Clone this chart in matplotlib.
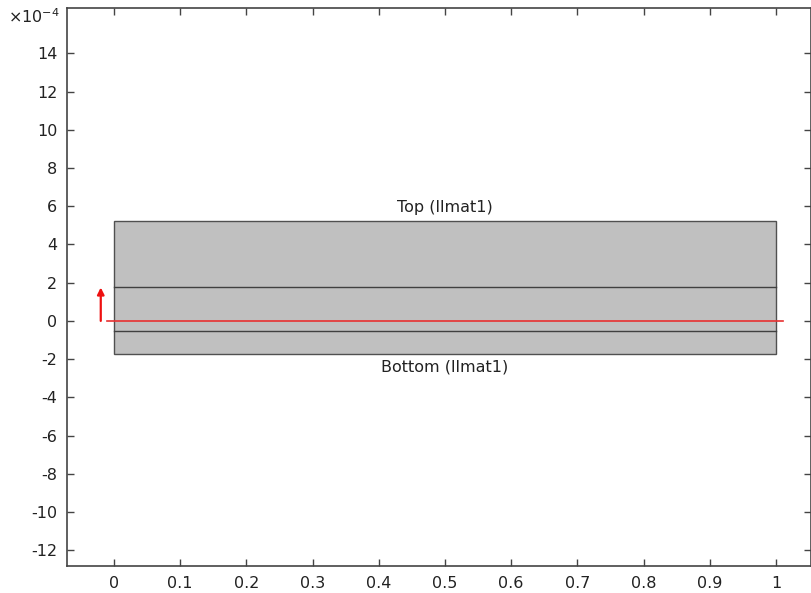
import matplotlib
matplotlib.use("Agg")
import matplotlib.pyplot as plt
from matplotlib.patches import Rectangle

# geometry (units of 1e-4 in y)
rect_x = [0.0, 1.0]
rect_y = [-1.73, 5.21]
layer_lines = [1.80, -0.53]
line_y = 0.0
line_x = [-0.011, 1.011]
arrow_x = -0.02
arrow_y = [0.0, 1.75]
labels = ["Top (llmat1)", "Bottom (llmat1)"]
label_pos = [(0.5, 5.95), (0.5, -2.4)]
xticks = [0, 0.1, 0.2, 0.3, 0.4, 0.5, 0.6, 0.7, 0.8, 0.9, 1]
xticklabels = ["0", "0.1", "0.2", "0.3", "0.4", "0.5", "0.6", "0.7", "0.8", "0.9", "1"]
yticks = [-12, -10, -8, -6, -4, -2, 0, 2, 4, 6, 8, 10, 12, 14]
xlim = (-0.071, 1.053)
ylim = (-12.83, 16.38)

fig = plt.figure(figsize=(8.12, 5.93), dpi=100)
ax = fig.add_axes([67/812, (593-566)/593, (811-67)/812, (566-8)/593])

ax.add_patch(Rectangle((rect_x[0], rect_y[0]), rect_x[1]-rect_x[0], rect_y[1]-rect_y[0],
                       facecolor="#c0c0c0", edgecolor="#505050", linewidth=1.0, zorder=1))
for ly in layer_lines:
    ax.plot(rect_x, [ly, ly], color="#404040", linewidth=1.0, zorder=2)
ax.plot(line_x, [line_y, line_y], color="#e83030", linewidth=1.2, zorder=3)
ax.annotate("", xy=(arrow_x, arrow_y[1]), xytext=(arrow_x, arrow_y[0]),
            arrowprops=dict(arrowstyle="-|>", color="#ee1010", lw=1.6,
                            mutation_scale=10, shrinkA=0, shrinkB=0), zorder=4)
for t, (px, py) in zip(labels, label_pos):
    ax.text(px, py, t, ha="center", va="center", fontsize=11.5, color="#222222")

ax.set_xlim(*xlim)
ax.set_ylim(*ylim)
ax.set_xticks(xticks)
ax.set_xticklabels(xticklabels)
ax.set_yticks(yticks)
ax.set_yticklabels([str(v) for v in yticks])
ax.tick_params(direction="in", length=5, width=1, colors="#444444",
               labelcolor="#222222", labelsize=11.5, top=True, right=True, pad=7)
for s in ax.spines.values():
    s.set_color("#444444")
    s.set_linewidth(1.2)

fig.text(8/812, 1 - 17/593, r"$\times$10$^{-4}$", fontsize=11.5, color="#222222", va="center", ha="left")

fig.savefig("out.png", dpi=100)
